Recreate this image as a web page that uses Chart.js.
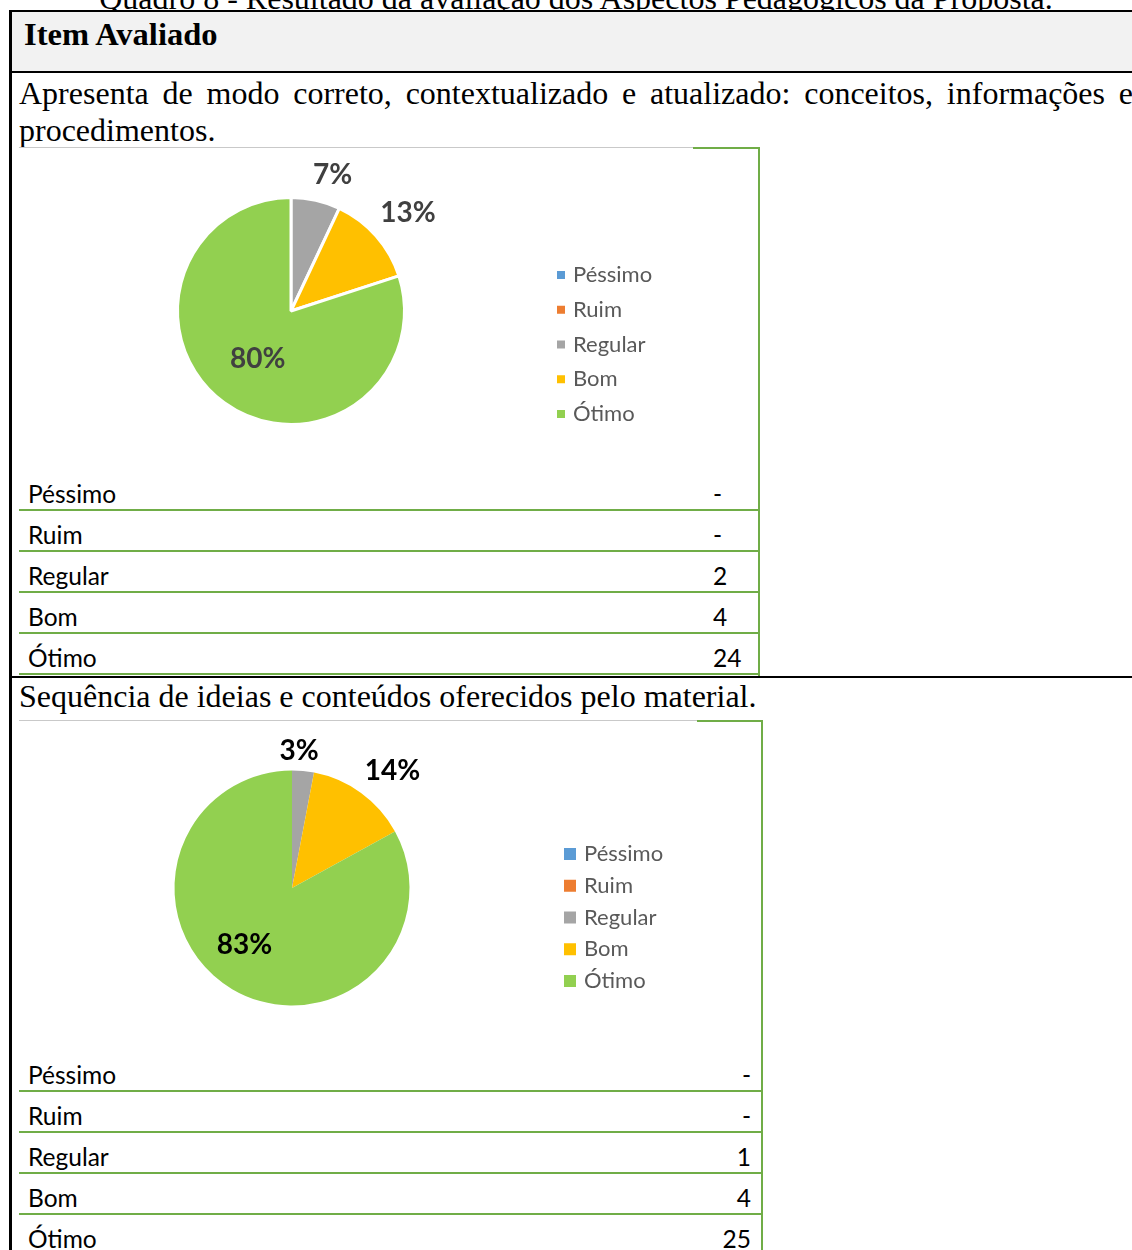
<!DOCTYPE html>
<html lang="pt-BR">
<head>
<meta charset="utf-8">
<title>Quadro 8 - Aspectos Pedagógicos</title>
<script src="https://cdn.jsdelivr.net/npm/chart.js@4.4.1/dist/chart.umd.min.js"></script>
<style>
html, body { margin: 0; padding: 0; background: #fff; }
body { width: 1132px; height: 1250px; position: relative; overflow: hidden;
  font-family: "Liberation Serif", "Times New Roman", serif; color: #000; }
.abs { position: absolute; }
.blk { background: #000; }
.grn { background: #70ad47; }
.serif { font-size: 32px; white-space: nowrap; }
#caption { left: 0; width: 1152px; top: -18px; line-height: 32px; text-align: center; }
#head { left: 24px; top: 18px; font-size: 32.5px; font-weight: bold; line-height: 32.5px; }
#p1 { left: 19px; top: 75px; width: 1114px; font-size: 32px; line-height: 37px; text-align: justify; }
#p2 { left: 19px; top: 678px; line-height: 37px; }
.tbl { font-family: Lato, "Noto Sans", sans-serif; font-size: 24.5px; }
.tbl .row { position: relative; height: 39px; border-bottom: 2px solid #70ad47; }
.tbl .row span { position: absolute; top: 4px; line-height: 39px; }
</style>
</head>
<body>
<div id="caption" class="abs serif">Quadro 8 - Resultado da avaliação dos Aspectos Pedagógicos da Proposta.</div>

<!-- table frame -->
<div class="abs blk" style="left:9px;top:10px;width:3px;height:1240px"></div>
<div class="abs blk" style="left:9px;top:10px;width:1123px;height:2px"></div>
<div class="abs" style="left:12px;top:12px;width:1120px;height:59px;background:#f2f2f2"></div>
<div class="abs blk" style="left:9px;top:71px;width:1123px;height:2px"></div>
<div class="abs blk" style="left:9px;top:676px;width:1123px;height:2px"></div>

<div id="head" class="abs">Item Avaliado</div>
<div id="p1" class="abs">Apresenta de modo correto, contextualizado e atualizado: conceitos, informações e procedimentos.</div>
<div id="p2" class="abs serif">Sequência de ideias e conteúdos oferecidos pelo material.</div>

<!-- chart box 1 -->
<div class="abs" style="left:19px;top:147px;width:674px;height:1px;background:#c9c9c9"></div>
<div class="abs grn" style="left:693px;top:147px;width:67px;height:2px"></div>
<div class="abs grn" style="left:758px;top:147px;width:2px;height:529px"></div>
<canvas id="pie1" class="abs" width="738" height="300" style="left:19px;top:150px"></canvas>
<div id="tbl1" class="abs tbl" style="left:19px;top:470px;width:739px"></div>

<!-- chart box 2 -->
<div class="abs" style="left:19px;top:720px;width:678px;height:1px;background:#c9c9c9"></div>
<div class="abs grn" style="left:697px;top:720px;width:66px;height:2px"></div>
<div class="abs grn" style="left:761px;top:720px;width:2px;height:530px"></div>
<canvas id="pie2" class="abs" width="742" height="320" style="left:19px;top:722px"></canvas>
<div id="tbl2" class="abs tbl" style="left:19px;top:1051px;width:742px"></div>

<script>
const categories = ["Péssimo", "Ruim", "Regular", "Bom", "Ótimo"];
const percent1 = [0, 0, 7, 13, 80];
const count1 = [0, 0, 2, 4, 24];
const percent2 = [0, 0, 3, 14, 83];
const count2 = [0, 0, 1, 4, 25];

const sliceColors = ["#5b9bd5", "#ed7d31", "#a5a5a5", "#ffc000", "#92d050"];

// percent labels on the slices (outside for small ones, inside for the big one)
const sliceLabels = {
    id: "sliceLabels",
    afterDatasetsDraw(chart, args, opts) {
        const ctx = chart.ctx;
        const vals = chart.data.datasets[0].data;
        const total = vals.reduce((a, b) => a + b, 0);
        ctx.save();
        ctx.font = opts.font;
        ctx.fillStyle = opts.color;
        ctx.textAlign = "center";
        ctx.textBaseline = "middle";
        chart.getDatasetMeta(0).data.forEach((arc, i) => {
            if (!vals[i]) return;
            const p = arc.getProps(["x", "y", "startAngle", "endAngle", "outerRadius"], true);
            const mid = (p.startAngle + p.endAngle) / 2;
            const k = vals[i] / total < 0.25 ? opts.outside : opts.inside;
            const s = opts.shift[i] || [0, 0];
            ctx.fillText(vals[i] + "%",
                p.x + Math.cos(mid) * p.outerRadius * k + s[0],
                p.y + Math.sin(mid) * p.outerRadius * k + s[1]);
        });
        ctx.restore();
    }
};

// legend at the right, like the excel one
const sideLegend = {
    id: "sideLegend",
    afterDraw(chart, args, opts) {
        const ctx = chart.ctx;
        const colors = chart.data.datasets[0].backgroundColor;
        ctx.save();
        ctx.font = opts.font;
        ctx.textBaseline = "middle";
        chart.data.labels.forEach((label, i) => {
            const y = opts.y + i * opts.step;
            ctx.fillStyle = colors[i];
            ctx.fillRect(opts.x, y - opts.box / 2, opts.box, opts.box);
            ctx.fillStyle = opts.color;
            ctx.fillText(label, opts.textX, y);
        });
        ctx.restore();
    }
};

function pieConfig(values, o) {
    return {
        type: "pie",
        data: {
            labels: categories,
            datasets: [{
                data: values,
                backgroundColor: sliceColors,
                borderColor: "#ffffff",
                borderWidth: o.border,
                radius: o.radius
            }]
        },
        options: {
            responsive: false,
            animation: false,
            layout: { padding: o.padding },
            plugins: {
                legend: { display: false },
                tooltip: { enabled: false },
                sliceLabels: {
                    font: "bold 28px Lato", color: o.labelColor,
                    outside: 1.28, inside: 0.56, shift: o.shift
                },
                sideLegend: o.legend
            }
        },
        plugins: [sliceLabels, sideLegend]
    };
}

new Chart(document.getElementById("pie1"), pieConfig(percent1, {
    border: 3,
    radius: 113.5,
    padding: { left: 152, right: 346, top: 41, bottom: 19 },
    labelColor: "#404040",
    shift: [null, null, [10, 6], [8, -2], [4, -3]],
    legend: { x: 538, box: 8, textX: 554, y: 125, step: 34.75, font: "22px Lato", color: "#595959" }
}));

new Chart(document.getElementById("pie2"), pieConfig(percent2, {
    border: 0,
    radius: 117.5,
    padding: { left: 143, right: 339, top: 36, bottom: 24 },
    labelColor: "#000000",
    shift: [null, null, [-7, 13], [12, 5], [-14, 0]],
    legend: { x: 545, box: 12, textX: 565, y: 132, step: 31.75, font: "22px Lato", color: "#595959" }
}));

// small tables under the charts
function fillTable(id, counts, valueStyle) {
    const el = document.getElementById(id);
    categories.forEach((c, i) => {
        const row = document.createElement("div");
        row.className = "row";
        const a = document.createElement("span");
        a.style.left = "9px";
        a.textContent = c;
        const b = document.createElement("span");
        Object.assign(b.style, valueStyle);
        b.textContent = counts[i] ? counts[i] : "-";
        row.appendChild(a);
        row.appendChild(b);
        el.appendChild(row);
    });
}
fillTable("tbl1", count1, { left: "694px" });
fillTable("tbl2", count2, { right: "10px" });
</script>
</body>
</html>
